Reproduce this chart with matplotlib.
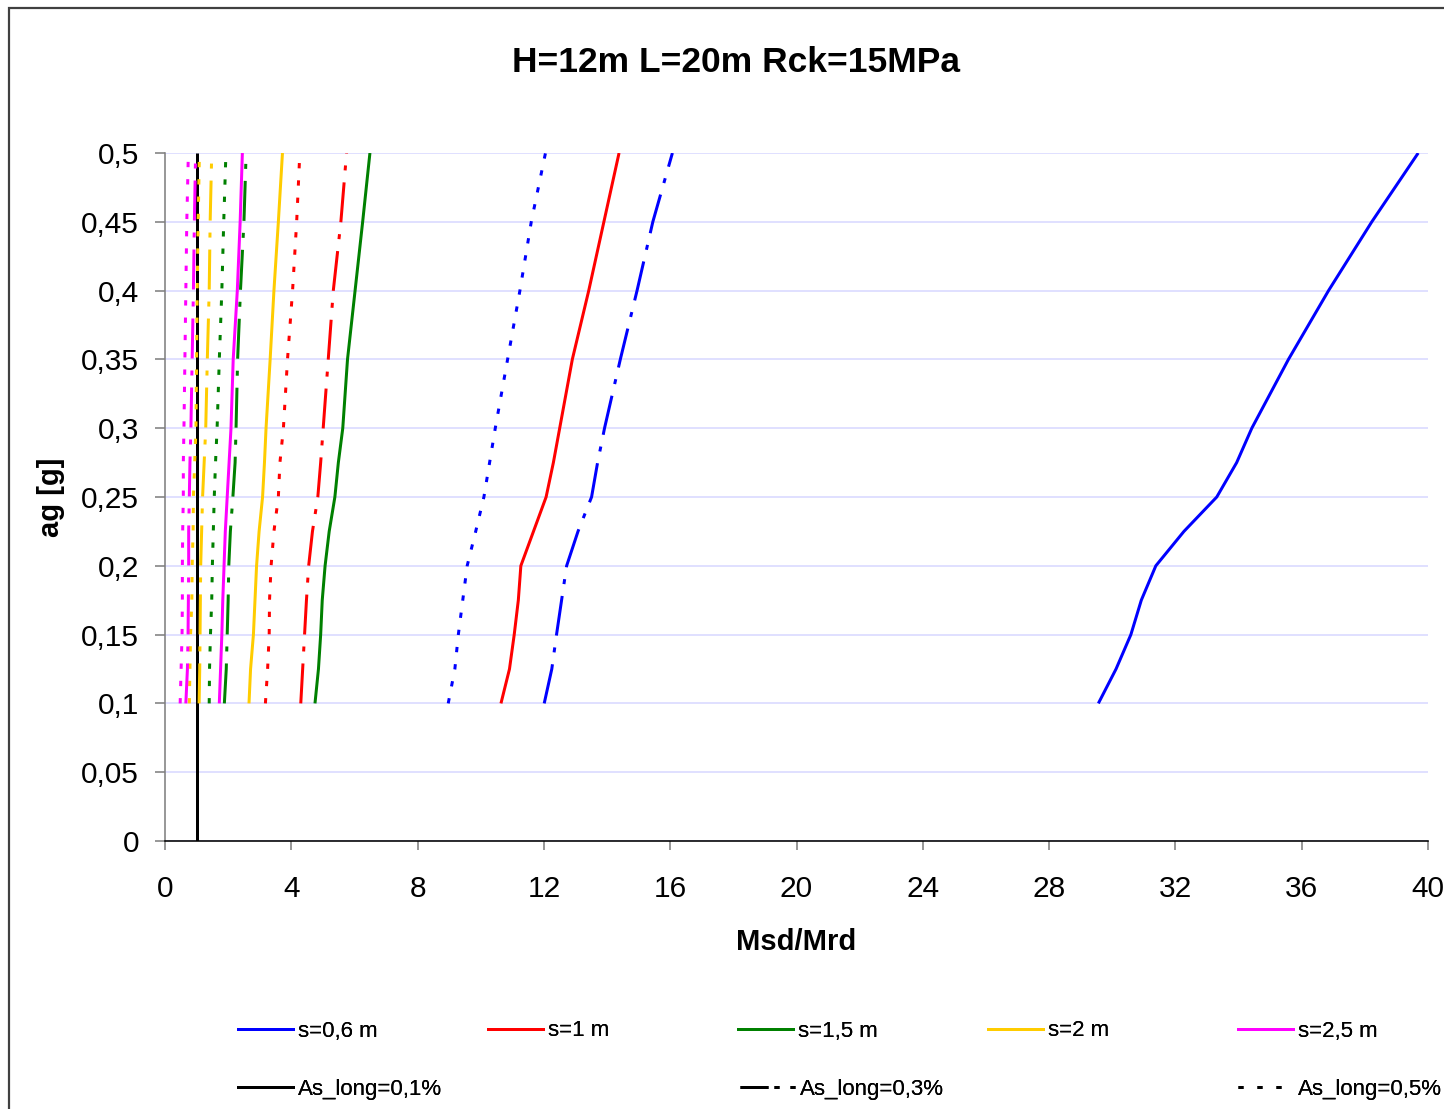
import matplotlib
matplotlib.use("Agg")
import matplotlib.pyplot as plt
from matplotlib.lines import Line2D
from matplotlib.patches import Rectangle
from matplotlib.ticker import FuncFormatter, MultipleLocator

plt.rcParams["font.family"] = ["Liberation Sans", "DejaVu Sans"]
plt.rcParams["lines.scale_dashes"] = False

# Seismic acceleration levels (g) shared by all curves
ag = [0.1, 0.125, 0.15, 0.175, 0.2, 0.225, 0.25, 0.275, 0.3, 0.35, 0.4, 0.45, 0.5]

# Msd/Mrd for each spacing s, longitudinal reinforcement 0.1 % / 0.3 % / 0.5 %
s06_as01 = [29.56, 30.12, 30.59, 30.92, 31.38, 32.27, 33.31, 33.94, 34.42, 35.58, 36.85, 38.22, 39.69]
s06_as03 = [12.01, 12.25, 12.40, 12.56, 12.72, 13.08, 13.51, 13.70, 13.92, 14.42, 14.95, 15.45, 16.07]
s06_as05 = [8.97, 9.18, 9.29, 9.43, 9.57, 9.84, 10.10, 10.28, 10.46, 10.85, 11.24, 11.60, 12.05]

s10_as01 = [10.64, 10.91, 11.06, 11.19, 11.27, 11.67, 12.07, 12.30, 12.50, 12.90, 13.42, 13.90, 14.38]
s10_as03 = [4.30, 4.36, 4.42, 4.48, 4.55, 4.67, 4.84, 4.93, 5.01, 5.17, 5.33, 5.57, 5.75]
s10_as05 = [3.18, 3.25, 3.30, 3.31, 3.36, 3.45, 3.59, 3.64, 3.75, 3.88, 4.04, 4.17, 4.27]

s15_as01 = [4.75, 4.86, 4.93, 4.98, 5.07, 5.20, 5.38, 5.49, 5.63, 5.78, 6.02, 6.26, 6.49]
s15_as03 = [1.88, 1.94, 1.97, 2.00, 2.02, 2.07, 2.15, 2.22, 2.25, 2.30, 2.39, 2.50, 2.57]
s15_as05 = [1.40, 1.41, 1.44, 1.48, 1.50, 1.53, 1.56, 1.60, 1.65, 1.72, 1.80, 1.86, 1.93]

s20_as01 = [2.66, 2.71, 2.80, 2.85, 2.90, 2.98, 3.09, 3.15, 3.20, 3.33, 3.45, 3.59, 3.72]
s20_as03 = [1.08, 1.10, 1.11, 1.12, 1.13, 1.16, 1.19, 1.24, 1.29, 1.34, 1.40, 1.43, 1.48]
s20_as05 = [0.77, 0.79, 0.81, 0.85, 0.86, 0.89, 0.90, 0.94, 0.98, 1.00, 1.02, 1.05, 1.09]

s25_as01 = [1.72, 1.76, 1.80, 1.83, 1.87, 1.91, 1.97, 2.03, 2.09, 2.16, 2.29, 2.38, 2.45]
s25_as03 = [0.66, 0.71, 0.73, 0.74, 0.75, 0.75, 0.77, 0.79, 0.82, 0.86, 0.90, 0.93, 0.97]
s25_as05 = [0.48, 0.51, 0.54, 0.55, 0.55, 0.56, 0.58, 0.58, 0.60, 0.63, 0.66, 0.69, 0.74]

# Unit check line Msd/Mrd = 1
limit_x = [1, 1]
limit_y = [0, 0.5]

spacing_labels = ["s=0,6 m", "s=1 m", "s=1,5 m", "s=2 m", "s=2,5 m"]
reinf_labels = ["As_long=0,1%", "As_long=0,3%", "As_long=0,5%"]
colors = ["#0000FF", "#FF0000", "#008000", "#FFCC00", "#FF00FF"]
series = [
    (s06_as01, s06_as03, s06_as05),
    (s10_as01, s10_as03, s10_as05),
    (s15_as01, s15_as03, s15_as05),
    (s20_as01, s20_as03, s20_as05),
    (s25_as01, s25_as03, s25_as05),
]

DPI = 100
W, H = 1444, 1109
PT = 72.0 / DPI  # points per pixel

dashdot = (0, (40 * PT, 12 * PT, 5 * PT, 12 * PT))
dotted = (0, (5.3 * PT, 12 * PT))
LW = 3.0 * PT

fig = plt.figure(figsize=(W / DPI, H / DPI), dpi=DPI)
ax = fig.add_axes([165 / W, 1 - 841 / H, (1428 - 165) / W, (841 - 153) / H])

ax.plot(limit_x, limit_y, color="black", lw=LW, solid_capstyle="butt")

for col, (a1, a3, a5) in zip(colors, series):
    ax.plot(a1, ag, color=col, lw=LW, solid_capstyle="butt", solid_joinstyle="round")
    ax.plot(a3, ag, color=col, lw=LW, linestyle=dashdot)
    ax.plot(a5, ag, color=col, lw=LW, linestyle=dotted)

ax.set_xlim(0, 40)
ax.set_ylim(0, 0.5)
ax.xaxis.set_major_locator(MultipleLocator(4))
ax.yaxis.set_major_locator(MultipleLocator(0.05))
comma = FuncFormatter(lambda v, p: ("%g" % round(v, 4)).replace(".", ","))
ax.xaxis.set_major_formatter(comma)
ax.yaxis.set_major_formatter(comma)

ax.yaxis.grid(True, color="#D9D9FF", lw=1.6 * PT)
ax.set_axisbelow(True)

for side in ("top", "right"):
    ax.spines[side].set_visible(False)
ax.spines["left"].set_color("#808080")
ax.spines["left"].set_linewidth(1.6 * PT)
ax.spines["bottom"].set_color("black")
ax.spines["bottom"].set_linewidth(1.6 * PT)

ax.tick_params(axis="y", direction="out", length=10 * PT, width=1.6 * PT,
               color="#808080", pad=16 * PT, labelsize=21.5)
ax.tick_params(axis="x", direction="out", length=9 * PT, width=1.6 * PT,
               color="#808080", pad=25 * PT, labelsize=21.5)

ax.set_xlabel("Msd/Mrd", fontsize=21, fontweight="bold")
ax.set_ylabel("ag [g]", fontsize=21, fontweight="bold")
ax.xaxis.set_label_coords(0.5, -0.127)
ax.yaxis.set_label_coords(-0.079, 0.5)

fig.text(736 / W, 1 - 72 / H, "H=12m L=20m Rck=15MPa", ha="center", va="baseline",
         fontsize=25.5, fontweight="bold")

# Chart area border
fig.add_artist(Rectangle((8.5 / W, -0.05), 1.2, 1 - 7.5 / H + 0.05, transform=fig.transFigure,
                         fill=False, edgecolor="#404040", lw=2.2 * PT, clip_on=False))

# Legend: one small legend per entry so the layout follows a fixed grid
LEG_FS = 16
fs_px = LEG_FS / PT
hl = 55 / fs_px


def add_entry(handle, label, x_px, y_px):
    leg = fig.legend([handle], [label], loc="center left",
                     bbox_to_anchor=(x_px / W, 1 - y_px / H), bbox_transform=fig.transFigure,
                     frameon=False, fontsize=LEG_FS, handlelength=hl, handletextpad=0.22,
                     borderpad=0, borderaxespad=0)
    fig.add_artist(leg)


row1_x = [238, 488, 738, 988, 1238]
for x, col, lab in zip(row1_x, colors, spacing_labels):
    add_entry(Line2D([], [], color=col, lw=LW), lab, x, 1031)

legend_dashdot = (0, (28 * PT, 6 * PT, 5 * PT, 11 * PT, 5 * PT, 30 * PT))
legend_dotted = (0, (5 * PT, 14 * PT))
add_entry(Line2D([], [], color="black", lw=LW), reinf_labels[0], 238, 1089)
add_entry(Line2D([], [], color="black", lw=LW, linestyle=legend_dashdot), reinf_labels[1], 740, 1089)
add_entry(Line2D([], [], color="black", lw=LW, linestyle=legend_dotted), reinf_labels[2], 1238, 1089)

fig.savefig("out.png", dpi=DPI)
